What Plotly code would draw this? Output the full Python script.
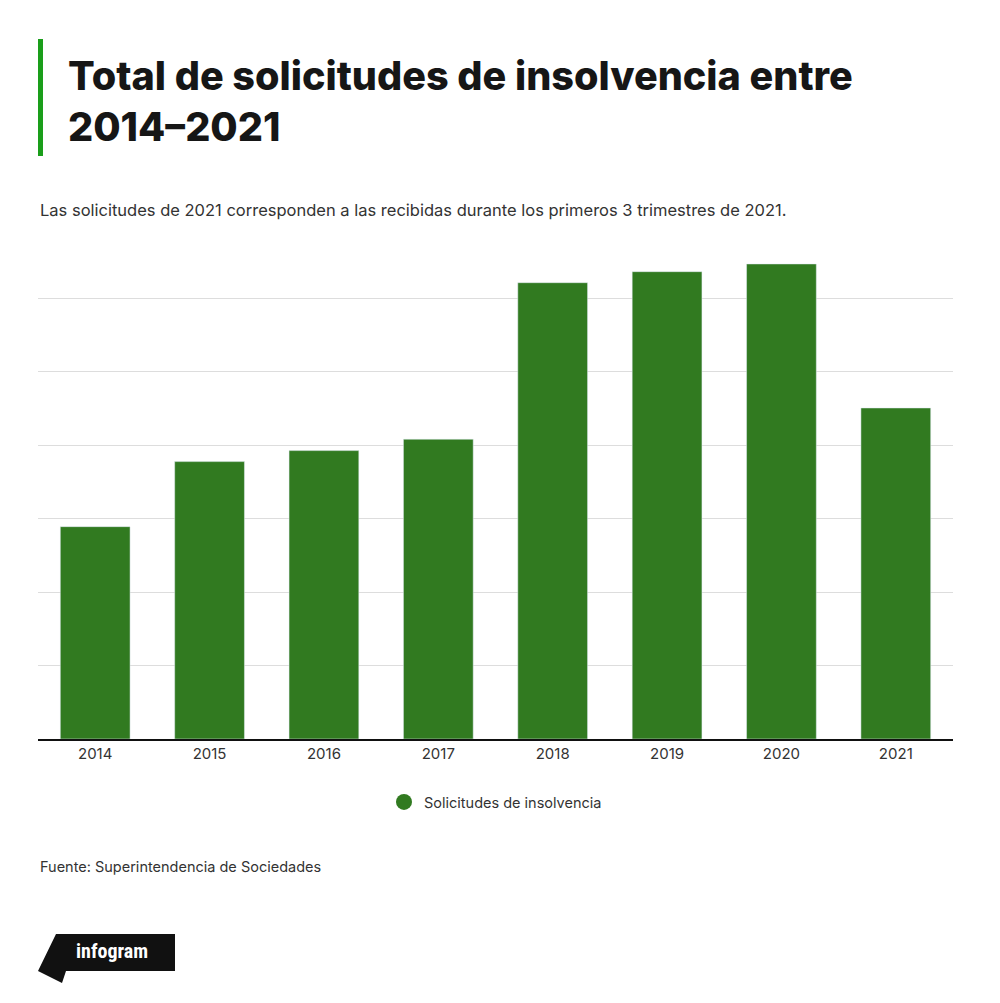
import plotly.graph_objects as go

# data
years = ["2014", "2015", "2016", "2017", "2018", "2019", "2020", "2021"]
solicitudes = [578, 755, 785, 816, 1242, 1272, 1293, 901]
grid_values = [200, 400, 600, 800, 1000, 1200]

title = "Total de solicitudes de insolvencia entre<br>2014–2021"
subtitle = "Las solicitudes de 2021 corresponden a las recibidas durante los primeros 3 trimestres de 2021."
source = "Fuente: Superintendencia de Sociedades"
series_name = "Solicitudes de insolvencia"

OFF = 8  # page body margin of the browser
W, H = 1000 - OFF, 1003 - OFF
L, R, T, B = 38 - OFF, 953 - OFF, 232 - OFF, 739 - OFF  # plot area in pixels
BAR_GREEN = "#317a20"
TEXT = "#333333"


def px(x):
    return (x - OFF - L) / (R - L)


def py(y):
    return (B - (y - OFF)) / (B - T)


fig = go.Figure()
fig.add_trace(go.Bar(x=years, y=solicitudes, marker_color=BAR_GREEN, showlegend=False,
                     hoverinfo="x+y"))
# circle marker for the legend
fig.add_trace(go.Scatter(x=[None], y=[None], mode="markers", name=series_name,
                         marker=dict(color=BAR_GREEN, size=18, symbol="circle")))

fig.update_layout(
    width=W, height=H,
    margin=dict(l=L, r=W - R, t=T, b=H - B, pad=0),
    paper_bgcolor="white", plot_bgcolor="white",
    bargap=0.39,
    font=dict(family="Inter, Roboto, sans-serif", color=TEXT, size=14),
    legend=dict(orientation="h", x=0.5, xanchor="center", y=py(802), yanchor="middle",
                font=dict(size=14.5, color=TEXT), itemsizing="trace"),
)
fig.update_xaxes(showline=True, linecolor="#111111", linewidth=2, ticks="", showgrid=False,
                 tickfont=dict(size=15, color=TEXT), fixedrange=True)
fig.update_yaxes(range=[0, 1380], tickvals=grid_values, showticklabels=False, showgrid=True,
                 gridcolor="#dddddd", gridwidth=1, zeroline=False, fixedrange=True)

# green accent bar next to title
fig.add_shape(type="rect", xref="paper", yref="paper", x0=px(38), x1=px(43), y0=py(156), y1=py(39),
              fillcolor="#1a9e1a", line_width=0, layer="above")

fig.add_annotation(text=title, xref="paper", yref="paper", x=px(66), y=py(50), xanchor="left",
                   yanchor="top", align="left", showarrow=False,
                   font=dict(family="Inter", size=39.6, color="#161616", weight=800))
fig.add_annotation(text=subtitle, xref="paper", yref="paper", x=px(38), y=py(210), xanchor="left",
                   yanchor="middle", showarrow=False, font=dict(size=16.5, color=TEXT))
fig.add_annotation(text=source, xref="paper", yref="paper", x=px(38), y=py(866), xanchor="left",
                   yanchor="middle", showarrow=False, font=dict(size=14.5, color=TEXT))

# infogram badge
path = "M {} {} L {} {} L {} {} L {} {} L {} {} L {} {} Z".format(
    px(56), py(934), px(175), py(934), px(175), py(971), px(66), py(971), px(62), py(983),
    px(38), py(971))
fig.add_shape(type="path", xref="paper", yref="paper", path=path, fillcolor="#111111", line_width=0)
fig.add_annotation(text="infogram", xref="paper", yref="paper", x=px(112), y=py(951), xanchor="center",
                   yanchor="middle", showarrow=False,
                   font=dict(family="Roboto Condensed, Roboto", size=20, color="white", weight=700))

fig.write_html("out.html")
